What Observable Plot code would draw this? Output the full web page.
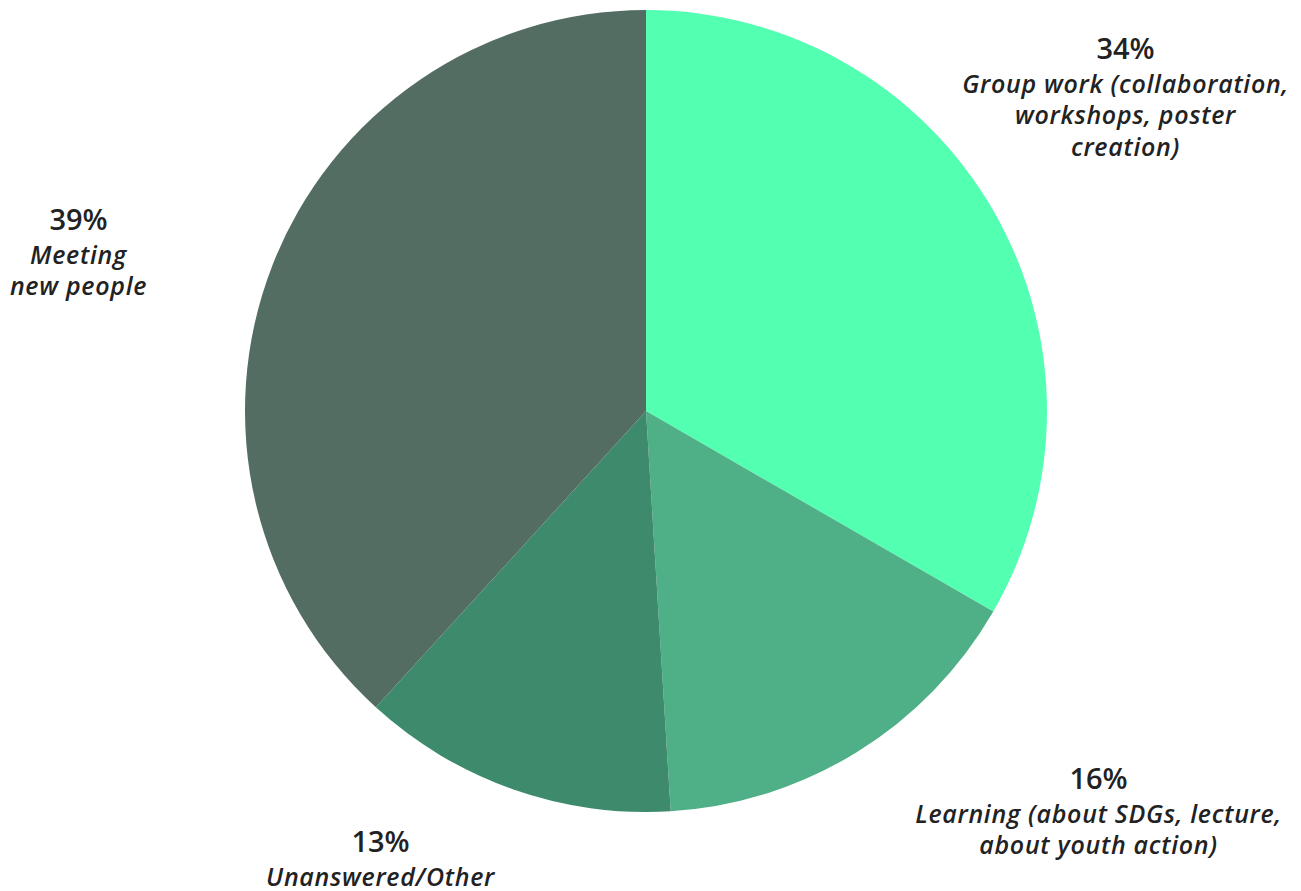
<!DOCTYPE html>
<html>
<head>
<meta charset="utf-8">
<script src="https://cdn.jsdelivr.net/npm/d3@7"></script>
<script src="https://cdn.jsdelivr.net/npm/@observablehq/plot@0.6"></script>
<style>
  html, body { margin: 0; padding: 0; background: #ffffff; }
  #chart svg { display: block; }
  #chart g[font-style="italic"] { letter-spacing: 0.7px; }
</style>
</head>
<body>
<div id="chart"></div>
<script>
// ---- data ----
const categories = ["Group work", "Learning", "Unanswered/Other", "Meeting new people"];
const percents = [34, 16, 13, 39];
const labelTexts = [
  "Group work (collaboration,\nworkshops, poster\ncreation)",
  "Learning (about SDGs, lecture,\nabout youth action)",
  "Unanswered/Other",
  "Meeting\nnew people"
];
const sliceColors = ["#53ffb1", "#4faf87", "#3d8a6d", "#536d63"];

// ---- layout ----
const W = 1301, H = 891;
const cx = 646, cy = 411, R = 401;
// label anchor offsets (first baseline) relative to the pie centre
const labelOffsets = [[479, -353], [452, 377], [-266, 440], [-568, -182]];

const data = categories.map((c, i) => ({
  category: c, value: percents[i], label: labelTexts[i],
  pct: percents[i] + "%",
  lx: cx + labelOffsets[i][0], ly: cy + labelOffsets[i][1]
}));

const color = Plot.scale({color: {type: "ordinal", domain: categories, range: sliceColors}});

const pieMark = () => {
  const arcs = d3.pie().sort(null).value(d => d.value)(data);
  const arc = d3.arc().innerRadius(0).outerRadius(R);
  const g = d3.create("svg:g").attr("transform", `translate(${cx},${cy})`);
  g.selectAll("path").data(arcs).join("path")
    .attr("d", arc)
    .attr("fill", d => color.apply(d.data.category));
  return g.node();
};

const fontFamily = "'Open Sans', Lato, sans-serif";

const chart = Plot.plot({
  width: W, height: H,
  margin: 0,
  x: {type: "identity", axis: null},
  y: {type: "identity", axis: null},
  style: {background: "#ffffff"},
  marks: [
    pieMark,
    Plot.text(data, {
      x: "lx", y: "ly", text: "pct",
      fontSize: 29, fontWeight: 600, fill: "#222222",
      fontFamily, textAnchor: "middle", lineAnchor: "bottom"
    }),
    Plot.text(data, {
      x: "lx", y: "ly", dy: 12, text: "label",
      fontSize: 25, fontWeight: 600, fontStyle: "italic", fill: "#222222",
      fontFamily, textAnchor: "middle", lineAnchor: "top", lineHeight: 1.26
    })
  ]
});

document.getElementById("chart").appendChild(chart);
</script>
</body>
</html>
